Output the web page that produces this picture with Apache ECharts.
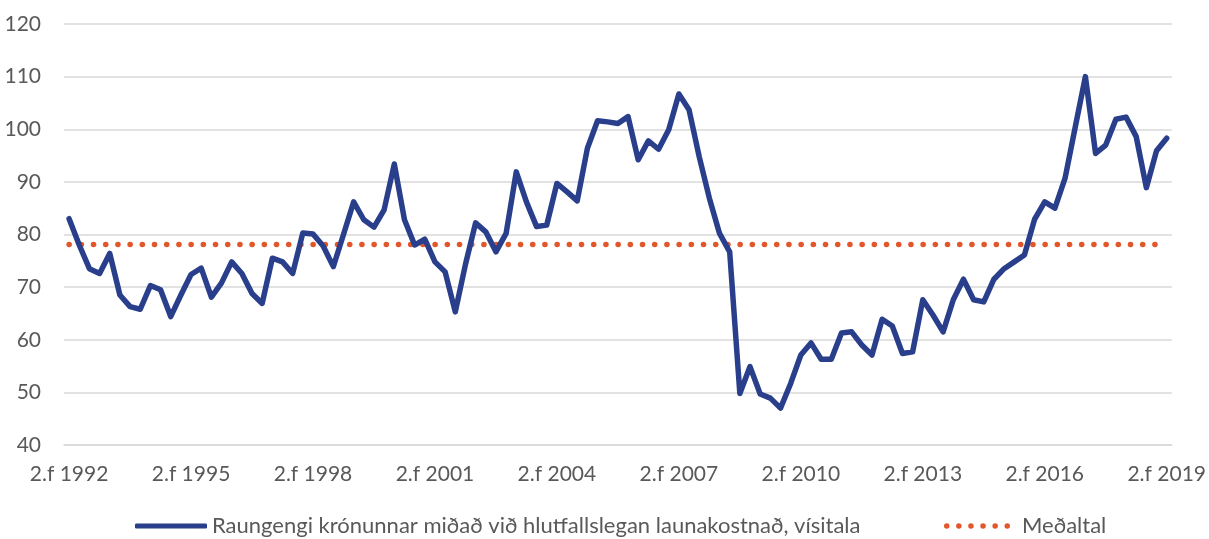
<!doctype html>
<html>
<head>
<meta charset="utf-8">
<script src="https://cdn.jsdelivr.net/npm/echarts@6/dist/echarts.min.js"></script>
<style>
    html, body { margin: 0; padding: 0; background: #fff; }
    #chart { width: 1209px; height: 539px; }
</style>
</head>
<body>
<div id="chart"></div>
<script>
    // ársfjórðungar frá 2.f 1992 til 2.f 2019
    var startYear = 1992, startQuarter = 2, pointCount = 109;
    var categories = [];
    for (var i = 0; i < pointCount; i++) {
        var q = startQuarter - 1 + i;
        categories.push((q % 4 + 1) + '.f ' + (startYear + Math.floor(q / 4)));
    }

    var raungengi = [
        83.0, 78.0, 73.5, 72.6, 76.4, 68.5, 66.3, 65.8, 70.3, 69.5, 64.4, 68.5,
        72.4, 73.6, 68.1, 70.8, 74.8, 72.6, 68.8, 66.9, 75.5, 74.8, 72.6, 80.3,
        80.1, 77.8, 73.9, 80.0, 86.2, 82.8, 81.4, 84.7, 93.4, 82.8, 78.0, 79.1,
        74.8, 72.9, 65.3, 74.3, 82.2, 80.5, 76.7, 80.2, 91.9, 86.2, 81.5, 81.8,
        89.7, 88.1, 86.4, 96.4, 101.6, 101.4, 101.1, 102.4, 94.2, 97.8, 96.2, 99.9,
        106.7, 103.7, 94.8, 86.9, 80.2, 76.7, 49.8, 54.9, 49.7, 48.9, 47.0, 51.7,
        57.1, 59.4, 56.3, 56.3, 61.3, 61.5, 59.0, 57.1, 63.9, 62.6, 57.4, 57.7,
        67.6, 64.7, 61.5, 67.6, 71.5, 67.6, 67.2, 71.5, 73.5, 74.8, 76.1, 82.9,
        86.2, 85.0, 90.7, 100.4, 110.0, 95.4, 97.0, 101.9, 102.3, 98.6, 88.9, 95.9,
        98.3
    ];
    var medaltalGildi = 78.1;
    var medaltal = categories.map(function () { return medaltalGildi; });

    var nafnRaungengi = 'Raungengi krónunnar miðað við hlutfallslegan launakostnað, vísitala';
    var nafnMedaltal = 'Meðaltal';
    var blue = '#293F8B', orange = '#E2572A';

    // sex punktar fyrir skýringu meðaltals
    var dotPath = 'path://';
    for (var d = 0; d < 6; d++) {
        var cx = 2.75 + d * 12.1;
        dotPath += 'M' + (cx - 2.75) + ',2.75 a2.75,2.75 0 1,0 5.5,0 a2.75,2.75 0 1,0 -5.5,0 ';
    }

    var labelFont = 'Lato, "Open Sans", sans-serif';
    var chart = echarts.init(document.getElementById('chart'));
    chart.setOption({
        animation: false,
        grid: { left: 64, right: 37, top: 24, bottom: 94 },
        legend: [
            {
                left: 130,
                top: 510,
                itemWidth: 72,
                itemHeight: 5,
                textStyle: { color: '#595959', fontSize: 22, fontFamily: labelFont },
                data: [{ name: nafnRaungengi, icon: 'roundRect' }]
            },
            {
                left: 939,
                top: 510,
                itemWidth: 66,
                itemHeight: 5.5,
                textStyle: { color: '#595959', fontSize: 22, fontFamily: labelFont, padding: [0, 0, 0, 7] },
                data: [{ name: nafnMedaltal, icon: dotPath }]
            }
        ],
        xAxis: {
            type: 'category',
            data: categories,
            boundaryGap: true,
            axisTick: { show: false },
            axisLine: { lineStyle: { color: '#D9D9D9', width: 1.5 } },
            axisLabel: { interval: 11, color: '#595959', fontSize: 21, fontFamily: labelFont, margin: 19 }
        },
        yAxis: {
            type: 'value',
            min: 40,
            max: 120,
            interval: 10,
            axisLine: { show: false },
            axisTick: { show: false },
            splitLine: { lineStyle: { color: '#D9D9D9', width: 1.5 } },
            axisLabel: { color: '#595959', fontSize: 21, fontFamily: labelFont, margin: 23 }
        },
        series: [
            {
                name: nafnRaungengi,
                type: 'line',
                data: raungengi,
                symbol: 'none',
                z: 3,
                lineStyle: { color: blue, width: 5.5, cap: 'round', join: 'round' },
                itemStyle: { color: blue }
            },
            {
                name: nafnMedaltal,
                type: 'line',
                data: medaltal,
                symbol: 'none',
                z: 2,
                lineStyle: { color: orange, width: 5.5, type: [0.1, 12.1], cap: 'round' },
                itemStyle: { color: orange }
            }
        ]
    });
</script>
</body>
</html>
